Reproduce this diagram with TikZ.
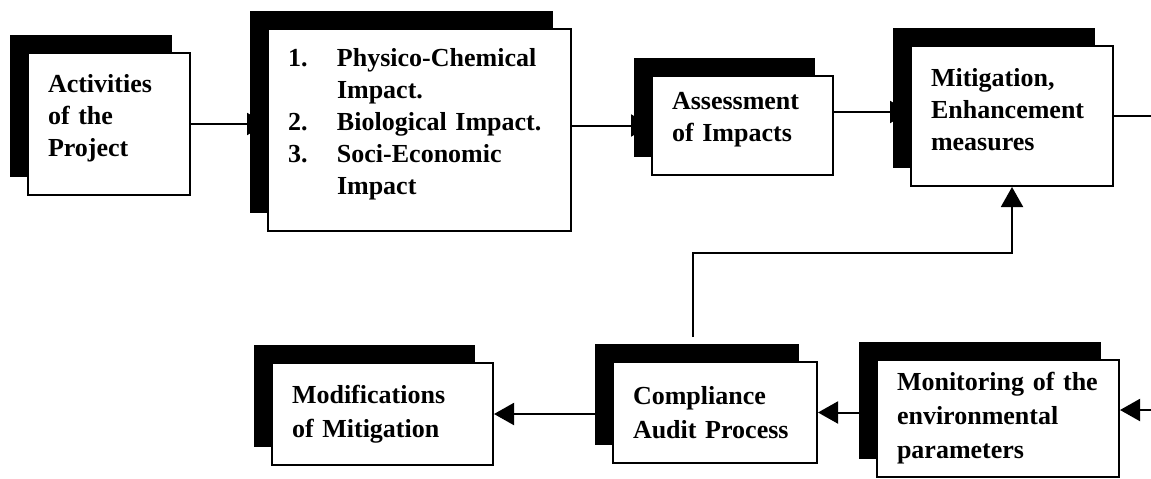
\documentclass[tikz,border=0pt]{standalone}
\usepackage{fontspec}
\setmainfont{Liberation Serif}
\usetikzlibrary{arrows.meta,shadows,backgrounds}

\tikzset{every picture/.style={line width=1.5pt}}
\tikzset{
  stage/.style={draw, fill=white, align=left, inner xsep=15pt, inner ysep=0pt,
    font=\bfseries\fontsize{19.5pt}{24pt}\selectfont,
    drop shadow={shadow xshift=-13.5pt, shadow yshift=13.5pt, fill=black, opacity=1}},
  raised/.style={execute at end node={\par\kern9pt}},
  loose/.style={font=\bfseries\fontsize{19.5pt}{25.5pt}\selectfont},
  link/.style={line width=1.5pt},
  flow/.style={link, -{Triangle[length=15pt,width=16.5pt]}}
}
% numbered line with hanging text
\newcommand{\numline}[2]{\makebox[36.75pt][l]{#1}#2}

\begin{document}
\begin{tikzpicture}[x=0.75pt,y=0.75pt,yscale=-1,xscale=1]
	\useasboundingbox (0,0) rectangle (1151,478);

	%Shape: Rectangle [top row]
	\node[stage, raised, text width=91.5pt, minimum height=106.5pt] (act) at (109,124)
		{Activities\\of the\\Project};
	\node[stage, raised, text width=197.25pt, minimum height=151.5pt] (imp) at (419.5,130)
		{\numline{1.}{Physico-Chemical}\\\numline{}{Impact.}\\\numline{2.}{Biological Impact.}\\\numline{3.}{Soci-Economic}\\\numline{}{Impact}};
	\node[stage, raised, text width=105.75pt, minimum height=74.25pt] (ass) at (742.5,125.5)
		{Assessment\\of Impacts};
	\node[stage, raised, text width=121.5pt, minimum height=105pt] (mit) at (1012,116)
		{Mitigation,\\Enhancement\\measures};

	%Shape: Rectangle [bottom row]
	\node[stage, loose, text width=135.75pt, minimum height=76.5pt] (mod) at (382.5,414)
		{Modifications\\of Mitigation};
	\node[stage, loose, text width=123pt, minimum height=75.75pt] (cmp) at (715,412.5)
		{Compliance\\Audit Process};
	\node[stage, loose, text width=151.5pt, minimum height=87.75pt] (mon) at (998,418.5)
		{Monitoring of the\\environmental\\parameters};

	% free ends at the right margin and feedback start
	\coordinate (rimA) at (1151,118);
	\coordinate (rimB) at (1151,410);
	\coordinate (fb) at (693,337);

	% connectors go under the shadows
	\begin{pgfonlayer}{background}
	%Straight Lines
	\draw[flow] (act.east) -- (act.east -| imp.west);
	\draw[flow] (ass.west -| imp.east) -- (ass.west);
	\draw[flow] ([yshift=-3pt]mit.west -| ass.east) -- ([yshift=-3pt]mit.west);
	\draw[link] (mit.east) -- (mit.east -| rimA);

	\draw[flow] (rimB) -- (rimB -| mon.east);
	\draw[flow] (cmp.east -| mon.west) -- (cmp.east);
	\draw[flow] (mod.east -| cmp.west) -- (mod.east);

	%Feedback to mitigation
	\draw[flow] (fb) -- (fb |- 0,253) -| (mit.south);
	\end{pgfonlayer}

\end{tikzpicture}
\end{document}
